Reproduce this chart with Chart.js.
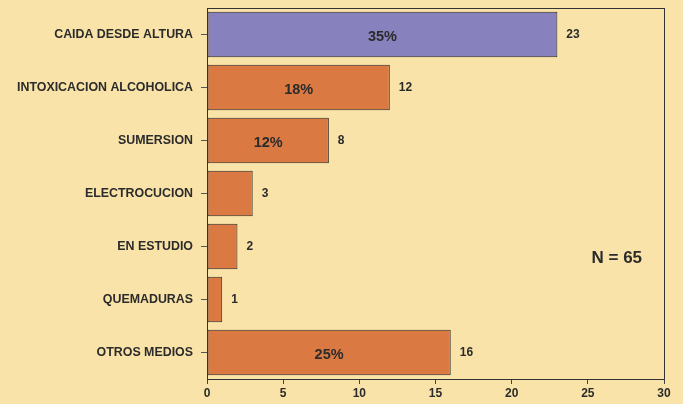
<!DOCTYPE html>
<html>
<head>
<meta charset="utf-8">
<script src="https://cdn.jsdelivr.net/npm/chart.js@4"></script>
<style>
  html, body { margin: 0; padding: 0; background: #F9E3A9; }
  #wrap { width: 683px; height: 404px; }
</style>
</head>
<body>
<div id="wrap"><canvas id="causesChart"></canvas></div>
<script>
const categories = ["CAIDA DESDE ALTURA", "INTOXICACION ALCOHOLICA", "SUMERSION", "ELECTROCUCION", "EN ESTUDIO", "QUEMADURAS", "OTROS MEDIOS"];
const counts = [23, 12, 8, 3, 2, 1, 16];
const percentLabels = ["35%", "18%", "12%", "", "", "", "25%"];
const xTicks = [0, 5, 10, 15, 20, 25, 30];
const totalLabel = "N = 65";

const barColors = counts.map((v, i) => i === 0 ? "#8781BE" : "#DA7942");
const textColor = "#2b2b2b";
const fontFamily = "'Liberation Sans', Arial, sans-serif";

// draws frame, value labels, percentages and the N label
const labelPlugin = {
    id: "labels",
    afterDatasetsDraw(chart) {
        const ctx = chart.ctx;
        const area = chart.chartArea;
        const meta = chart.getDatasetMeta(0);
        ctx.save();
        ctx.strokeStyle = "#333";
        ctx.lineWidth = 1;
        ctx.strokeRect(area.left + 0.5, area.top + 0.5, area.right - area.left, area.bottom - area.top);

        ctx.fillStyle = textColor;
        ctx.textBaseline = "middle";
        meta.data.forEach((bar, i) => {
            ctx.font = "bold 12px " + fontFamily;
            ctx.textAlign = "left";
            ctx.fillText(counts[i], bar.x + 9, bar.y);
            if (percentLabels[i]) {
                ctx.font = "bold 14.5px " + fontFamily;
                ctx.textAlign = "center";
                ctx.fillText(percentLabels[i], (bar.base + bar.x) / 2, bar.y + 2);
            }
        });

        ctx.font = "bold 17px " + fontFamily;
        ctx.textAlign = "center";
        const xs = chart.scales.x;
        ctx.fillText(totalLabel, xs.getPixelForValue(26.9), chart.scales.y.getPixelForValue(4) + 12);
        ctx.restore();
    }
};

new Chart(document.getElementById("causesChart"), {
    type: "bar",
    data: {
        labels: categories,
        datasets: [{
            data: counts,
            backgroundColor: barColors,
            borderColor: "#2a2a2a",
            borderWidth: 1,
            borderSkipped: false,
            barPercentage: 0.86,
            categoryPercentage: 1
        }]
    },
    options: {
        indexAxis: "y",
        responsive: true,
        maintainAspectRatio: false,
        animation: false,
        layout: { padding: { top: 8, right: 19, left: 0, bottom: 0 } },
        plugins: {
            legend: { display: false },
            tooltip: { enabled: false }
        },
        scales: {
            x: {
                min: 0,
                max: 30,
                afterBuildTicks: axis => { axis.ticks = xTicks.map(v => ({ value: v })); },
                afterFit: axis => { axis.height = 25; },
                grid: { drawOnChartArea: false, tickLength: 5, color: "#444" },
                border: { color: "#333" },
                ticks: {
                    padding: 2,
                    color: textColor,
                    font: { family: fontFamily, size: 12, weight: "bold" }
                }
            },
            y: {
                afterFit: axis => {
                    axis.width = 207;
                    axis.paddingTop = 0;
                    axis.paddingBottom = 0;
                },
                grid: { drawOnChartArea: false, offset: false, tickLength: 6, color: "#555" },
                border: { color: "#333" },
                ticks: {
                    padding: 8,
                    color: textColor,
                    font: { family: fontFamily, size: 12.4, weight: "bold" }
                }
            }
        }
    },
    plugins: [labelPlugin]
});
</script>
</body>
</html>
